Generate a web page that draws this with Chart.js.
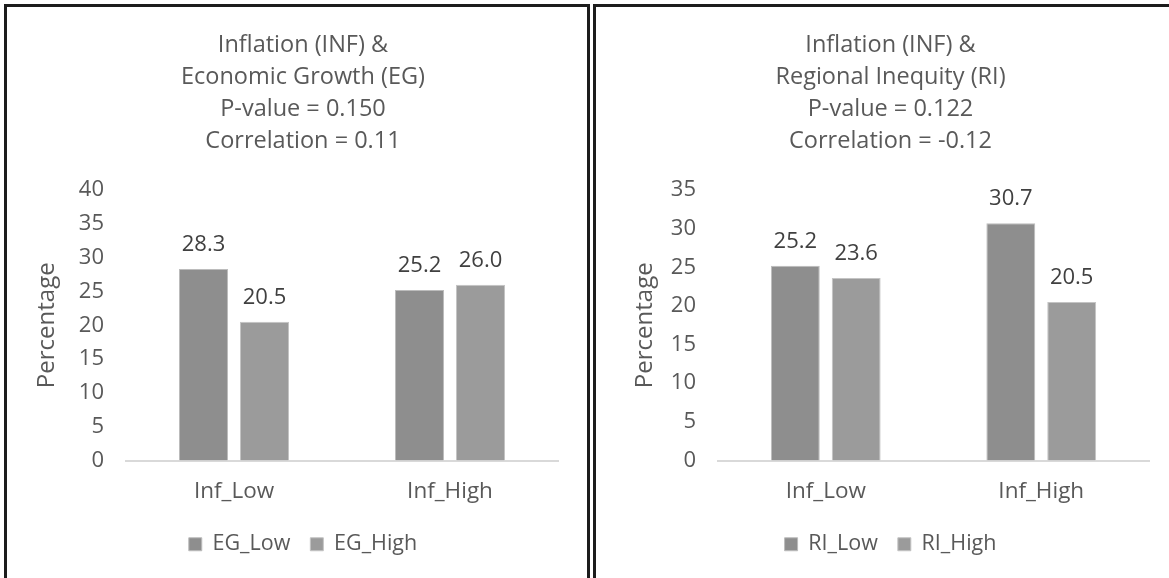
<!DOCTYPE html>
<html lang="en">

<head>
    <meta charset="UTF-8">
    <title>Inflation vs EG / RI</title>
    <style>
        body {
            margin: 0;
            width: 1169px;
            height: 578px;
            overflow: hidden;
            background: #fff;
            position: relative;
            font-family: "Open Sans", sans-serif;
        }

        .frame {
            position: absolute;
            box-sizing: border-box;
            border: 3px solid #1c1c1c;
            pointer-events: none;
            z-index: 2;
        }

        canvas {
            position: absolute;
        }
    </style>
    <script src="https://cdn.jsdelivr.net/npm/chart.js"></script>
</head>

<body>
    <canvas id="egChart" width="592" height="571" style="left:7px;top:7px;width:592px;height:571px"></canvas>
    <canvas id="riChart" width="589" height="571" style="left:596px;top:7px;width:589px;height:571px"></canvas>
    <div class="frame" style="left:4px;top:4px;width:586px;height:620px"></div>
    <div class="frame" style="left:593px;top:4px;width:640px;height:620px"></div>

    <script>
        // data
        const categories = ['Inf_Low', 'Inf_High'];

        const egTitle = ['Inflation (INF) &', 'Economic Growth (EG)', 'P-value = 0.150', 'Correlation = 0.11'];
        const egNames = ['EG_Low', 'EG_High'];
        const egLow = [28.3, 25.2];
        const egHigh = [20.5, 26.0];
        const egMax = 40;

        const riTitle = ['Inflation (INF) &', 'Regional Inequity (RI)', 'P-value = 0.122', 'Correlation = -0.12'];
        const riNames = ['RI_Low', 'RI_High'];
        const riLow = [25.2, 30.7];
        const riHigh = [23.6, 20.5];
        const riMax = 35;

        const tickStep = 5;

        const FONT = '"Open Sans", sans-serif';
        const TEXT = '#595959';

        // value labels above the bars
        const valueLabels = {
            id: 'valueLabels',
            afterDatasetsDraw(chart) {
                const ctx = chart.ctx;
                ctx.save();
                ctx.font = '22px ' + FONT;
                ctx.fillStyle = '#404040';
                ctx.textAlign = 'center';
                ctx.textBaseline = 'alphabetic';
                chart.data.datasets.forEach((ds, i) => {
                    chart.getDatasetMeta(i).data.forEach((bar, j) => {
                        ctx.fillText(ds.data[j].toFixed(1), bar.x, bar.y - 18);
                    });
                });
                ctx.restore();
            }
        };

        function makeChart(id, title, names, low, high, yMax, axisWidth, titlePad, rightGap) {
            return new Chart(document.getElementById(id), {
                type: 'bar',
                data: {
                    labels: categories,
                    datasets: [
                        { label: names[0], data: low, backgroundColor: '#8e8e8e', borderColor: '#bcbcbc', borderWidth: 1 },
                        { label: names[1], data: high, backgroundColor: '#9b9b9b', borderColor: '#c4c4c4', borderWidth: 1 }
                    ]
                },
                options: {
                    responsive: false,
                    animation: false,
                    categoryPercentage: 0.565,
                    barPercentage: 0.803,
                    layout: { padding: { left: 0, right: 0, top: 0, bottom: 13 } },
                    plugins: {
                        title: {
                            display: true,
                            text: title,
                            color: TEXT,
                            font: { family: FONT, size: 23.5, weight: 'normal', lineHeight: '32px' },
                            padding: { top: 22, bottom: 33 }
                        },
                        legend: {
                            position: 'bottom',
                            labels: {
                                color: TEXT,
                                font: { family: FONT, size: 21.5 },
                                boxWidth: 13,
                                boxHeight: 13,
                                padding: 20
                            }
                        },
                        tooltip: { enabled: false }
                    },
                    scales: {
                        x: {
                            grid: { display: false, drawTicks: false },
                            border: { display: true, color: '#d9d9d9', width: 2 },
                            ticks: { color: TEXT, font: { family: FONT, size: 22.5 }, padding: 17.5 },
                            afterFit(scale) { scale.height = 53; }
                        },
                        y: {
                            min: 0,
                            max: yMax,
                            grid: { display: false, drawTicks: false },
                            border: { display: false },
                            ticks: { stepSize: tickStep, color: TEXT, font: { family: FONT, size: 22 }, padding: 22 },
                            title: {
                                display: true,
                                text: 'Percentage',
                                color: TEXT,
                                font: { family: FONT, size: 24 },
                                padding: { top: titlePad, bottom: 0 }
                            },
                            afterFit(scale) { scale.width = axisWidth; }
                        },
                        // empty right-hand axis, only keeps the plot clear of the frame
                        gap: {
                            type: 'linear',
                            position: 'right',
                            grid: { display: false, drawTicks: false },
                            border: { display: false },
                            ticks: { display: false },
                            afterFit(scale) { scale.width = rightGap; }
                        }
                    }
                },
                plugins: [valueLabels]
            });
        }

        makeChart('egChart', egTitle, egNames, egLow, egHigh, egMax, 119, 26, 41);
        makeChart('riChart', riTitle, riNames, riLow, riHigh, riMax, 122, 35, 36);
    </script>
</body>

</html>
